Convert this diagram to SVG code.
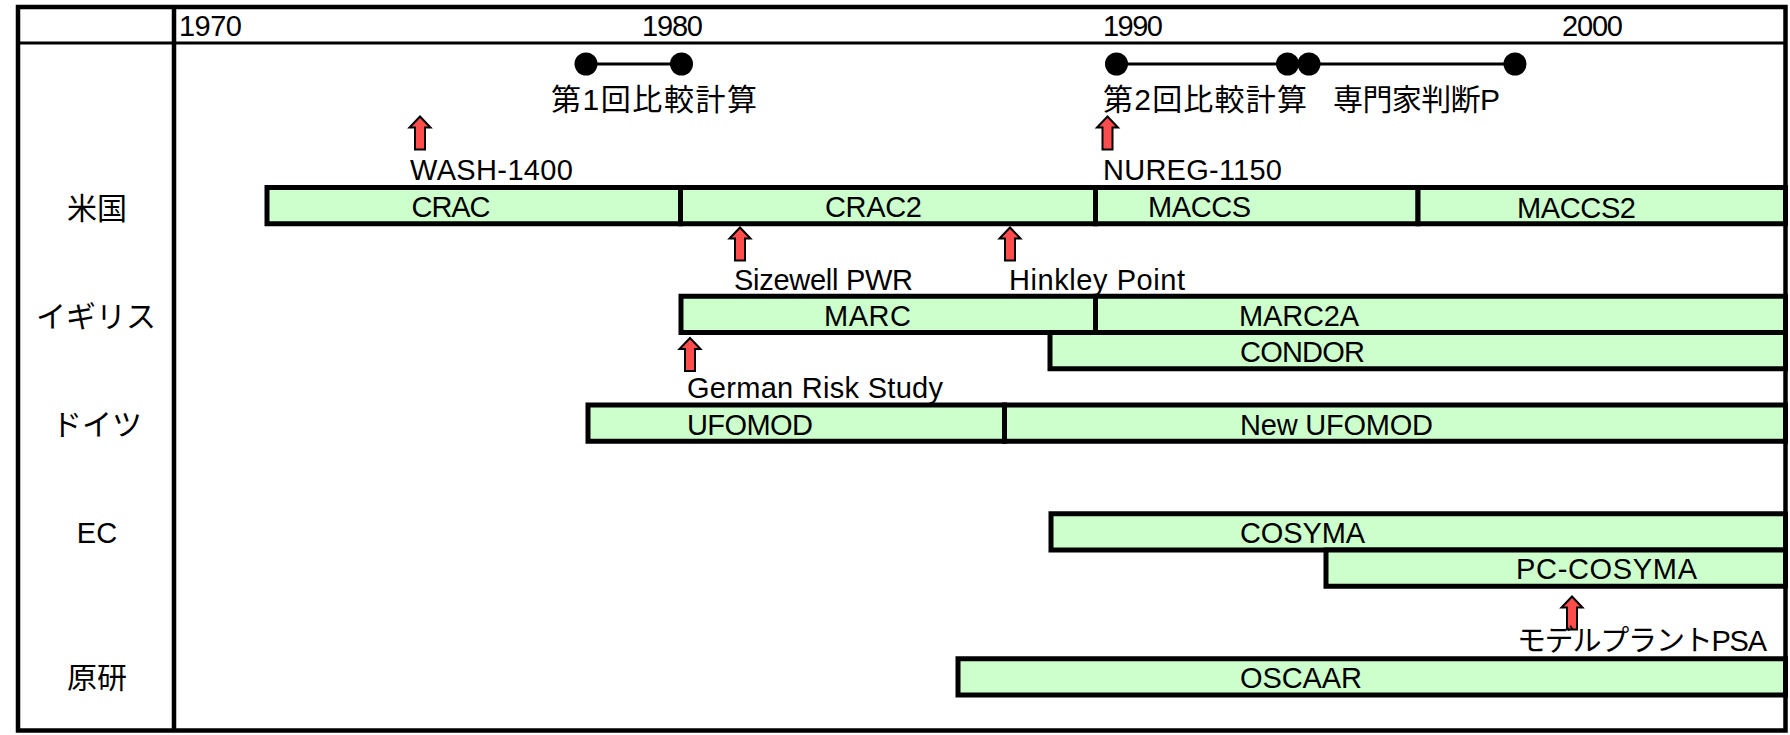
<svg xmlns="http://www.w3.org/2000/svg" width="1790" height="735" viewBox="0 0 1790 735">
<style>
text{font-family:"Liberation Sans","Noto Sans CJK JP",sans-serif;fill:#000}
.t{font-size:29px}
.y{font-size:29px}
.j{font-size:30px}
.rl{font-size:30px;text-anchor:middle}
.bar{fill:#CCFFCC;stroke:#000;stroke-width:5}
.frame{fill:none;stroke:#000;stroke-width:4.5}
.grid{stroke:#000;fill:none}
.conn{stroke:#000;stroke-width:3;fill:none}
.dot{fill:#000}
.arr{fill:#FF4D4D;stroke:#000;stroke-width:2;stroke-linejoin:miter}
</style>
<defs>
<path id="uparrow" d="M0,0 L10.5,11 L5,11 L5,33 L-5,33 L-5,11 L-10.5,11 Z"/>
</defs>
<rect width="1790" height="735" fill="#fff"/>

<g id="table">
<rect class="frame" x="18" y="7" width="1767.5" height="723.5"/>
<line class="grid" x1="18" y1="43" x2="1785.5" y2="43" stroke-width="3"/>
<line class="grid" x1="174" y1="7" x2="174" y2="730.5" stroke-width="4.5"/>
</g>

<g id="years">
<text class="y" x="179" y="36" textLength="63">1970</text>
<text class="y" x="642" y="36" textLength="61">1980</text>
<text class="y" x="1103" y="36" textLength="60">1990</text>
<text class="y" x="1562" y="36" textLength="61">2000</text>
</g>

<g id="row-labels">
<text id="lbl-us" class="rl" x="97" y="219">米国</text>
<text id="lbl-uk" class="rl" x="96" y="327">イギリス</text>
<text id="lbl-de" class="rl" x="97" y="435">ドイツ</text>
<text id="lbl-ec" class="t" x="97" y="543" text-anchor="middle">EC</text>
<text id="lbl-jaeri" class="rl" x="97" y="688">原研</text>
</g>

<g id="connectors">
<line class="conn" x1="586" y1="64" x2="681.5" y2="64"/>
<line class="conn" x1="1116.5" y1="64" x2="1287.5" y2="64"/>
<line class="conn" x1="1309" y1="64" x2="1515" y2="64"/>
</g>

<g id="cmp1">
<circle class="dot" cx="586" cy="64" r="11.5"/>
<circle class="dot" cx="681.5" cy="64" r="11.5"/>
<text class="j" x="551" y="109.5" textLength="206">第1回比較計算</text>
</g>
<g id="cmp2">
<circle class="dot" cx="1116.5" cy="64" r="11.5"/>
<circle class="dot" cx="1287.5" cy="64" r="11.5"/>
<text class="j" x="1103" y="109.5" textLength="204">第2回比較計算</text>
</g>
<g id="expert">
<circle class="dot" cx="1309" cy="64" r="11.5"/>
<circle class="dot" cx="1515" cy="64" r="11.5"/>
<text class="j" x="1333" y="109.5" textLength="167">専門家判断P</text>
</g>

<g id="ev-wash">
<use href="#uparrow" class="arr" x="420" y="116.5"/>
<text class="t" x="410" y="180" textLength="163">WASH-1400</text>
</g>
<g id="ev-nureg">
<use href="#uparrow" class="arr" x="1107.5" y="116.5"/>
<text class="t" x="1103" y="180" textLength="179">NUREG-1150</text>
</g>
<g id="ev-sizewell">
<use href="#uparrow" class="arr" x="740" y="227.5"/>
<text class="t" x="734" y="289.5" textLength="179">Sizewell PWR</text>
</g>
<g id="ev-hinkley">
<use href="#uparrow" class="arr" x="1010" y="227.5"/>
<text class="t" x="1009" y="289.5" textLength="176">Hinkley Point</text>
</g>
<g id="ev-german">
<use href="#uparrow" class="arr" x="690" y="338"/>
<text class="t" x="687" y="398" textLength="256">German Risk Study</text>
</g>
<g id="ev-psa">
<use href="#uparrow" class="arr" x="1572" y="596.5"/>
<text class="t" x="1517" y="650.5" textLength="250">モデルプラントPSA</text>
</g>

<g id="bar-crac">
<rect class="bar" x="267" y="187.5" width="413.5" height="36.25"/>
<text class="t" x="411.5" y="217" textLength="79">CRAC</text>
</g>
<g id="bar-crac2">
<rect class="bar" x="680.5" y="187.5" width="415" height="36.25"/>
<text class="t" x="825" y="217" textLength="97">CRAC2</text>
</g>
<g id="bar-maccs">
<rect class="bar" x="1095.5" y="187.5" width="322.5" height="36.25"/>
<text class="t" x="1148" y="217" textLength="103">MACCS</text>
</g>
<g id="bar-maccs2">
<rect class="bar" x="1418" y="187.5" width="367.5" height="36.25"/>
<text class="t" x="1517" y="217.5" textLength="119">MACCS2</text>
</g>
<g id="bar-marc">
<rect class="bar" x="681" y="296.25" width="414.5" height="36.25"/>
<text class="t" x="824" y="326" textLength="87">MARC</text>
</g>
<g id="bar-marc2a">
<rect class="bar" x="1095.5" y="296.25" width="690" height="36.25"/>
<text class="t" x="1239" y="326" textLength="120">MARC2A</text>
</g>
<g id="bar-condor">
<rect class="bar" x="1050" y="332.5" width="735.5" height="36.25"/>
<text class="t" x="1240" y="362" textLength="125">CONDOR</text>
</g>
<g id="bar-ufomod">
<rect class="bar" x="588" y="405" width="416.5" height="36.25"/>
<text class="t" x="687" y="434.5" textLength="126">UFOMOD</text>
</g>
<g id="bar-newufomod">
<rect class="bar" x="1004.5" y="405" width="781" height="36.25"/>
<text class="t" x="1240" y="434.5" textLength="193">New UFOMOD</text>
</g>
<g id="bar-cosyma">
<rect class="bar" x="1051" y="513.75" width="734.5" height="36.25"/>
<text class="t" x="1240" y="543" textLength="125">COSYMA</text>
</g>
<g id="bar-pccosyma">
<rect class="bar" x="1326" y="550" width="459.5" height="36.25"/>
<text class="t" x="1516" y="579" textLength="181">PC-COSYMA</text>
</g>
<g id="bar-oscaar">
<rect class="bar" x="958" y="658.75" width="827.5" height="36.25"/>
<text class="t" x="1240" y="688" textLength="122">OSCAAR</text>
</g>
</svg>
